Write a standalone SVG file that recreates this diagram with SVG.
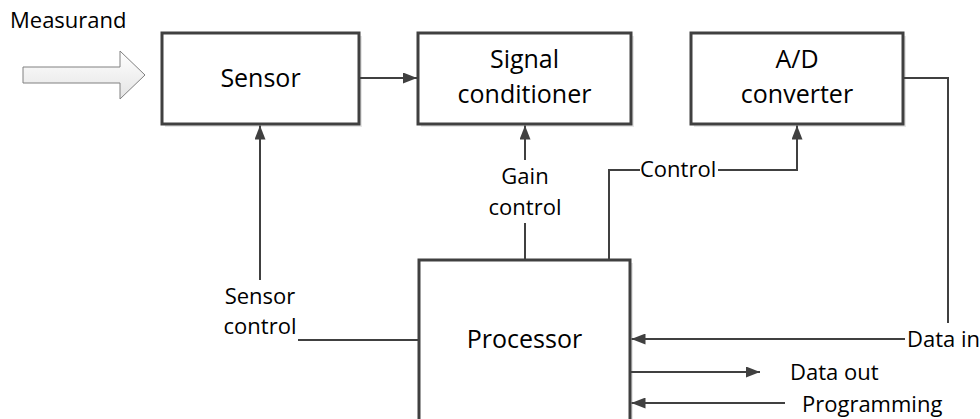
<svg xmlns="http://www.w3.org/2000/svg" width="980" height="419" viewBox="0 0 980 419">
<defs>
<marker id="ah" viewBox="0 0 14 11" refX="14" refY="5.5" markerWidth="14" markerHeight="11" markerUnits="userSpaceOnUse" orient="auto">
<path d="M0,0 L14,5.5 L0,11 z" fill="#404040"/>
</marker>
<linearGradient id="ag" x1="0" y1="0" x2="0" y2="1">
<stop offset="0" stop-color="#ffffff"/>
<stop offset="1" stop-color="#e4e4e4"/>
</linearGradient>
</defs>
<style>
.box{fill:#fff;stroke:#404040;stroke-width:3}
.sh{fill:#e6e6e6}
.ln{fill:none;stroke:#404040;stroke-width:2}
.arr{marker-end:url(#ah)}
.big{font-family:"Open Sans","Liberation Sans",sans-serif;font-size:25px;fill:#000;text-anchor:middle}
.sm{font-family:"Open Sans","Liberation Sans",sans-serif;font-size:22px;fill:#000}
.mid{text-anchor:middle}
</style>
<rect width="980" height="419" fill="#fff"/>
<g id="measurand">
<polygon points="23,67 120,67 120,51 145,75 120,99 120,83 23,83" fill="url(#ag)" stroke="#808080" stroke-width="1"/>
<text class="sm" x="10" y="28">Measurand</text>
</g>
<g id="sensor">
<rect class="sh" x="165" y="36" width="197" height="91"/>
<rect class="box" x="162" y="33" width="197" height="91"/>
<text class="big" x="260.5" y="87">Sensor</text>
</g>
<g id="signal-conditioner">
<rect class="sh" x="421" y="36" width="213" height="91"/>
<rect class="box" x="418" y="33" width="213" height="91"/>
<text class="big" x="524.5" y="68">Signal</text>
<text class="big" x="524.5" y="103">conditioner</text>
</g>
<g id="ad-converter">
<rect class="sh" x="694" y="36" width="212" height="91"/>
<rect class="box" x="691" y="33" width="212" height="91"/>
<text class="big" x="797" y="68">A/D</text>
<text class="big" x="797" y="103">converter</text>
</g>
<g id="processor">
<rect class="sh" x="422" y="263" width="211" height="170"/>
<rect class="box" x="419" y="260" width="211" height="170"/>
<text class="big" x="524.5" y="348">Processor</text>
</g>
<g id="connectors">
<path class="ln arr" d="M359,78 H417"/>
<path class="ln arr" d="M260,280 V125.5"/>
<path class="ln" d="M298,340 H419"/>
<path class="ln arr" d="M525,160 V125.5"/>
<path class="ln" d="M525,223 V260"/>
<path class="ln" d="M609,260 V170 H640"/>
<path class="ln arr" d="M718,170 H797 V125.5"/>
<path class="ln" d="M903,78 H948 V323"/>
<path class="ln arr" d="M905,339 H631.5"/>
<path class="ln arr" d="M630,372 H760"/>
<path class="ln arr" d="M785,403 H631.5"/>
<text class="sm mid" x="260" y="304">Sensor</text>
<text class="sm mid" x="260" y="334">control</text>
<text class="sm mid" x="525" y="184">Gain</text>
<text class="sm mid" x="525" y="215">control</text>
<text class="sm" x="640" y="177">Control</text>
<text class="sm" x="907" y="347">Data in</text>
<text class="sm" x="790" y="380">Data out</text>
<text class="sm" x="802" y="412">Programming</text>
</g>
</svg>
